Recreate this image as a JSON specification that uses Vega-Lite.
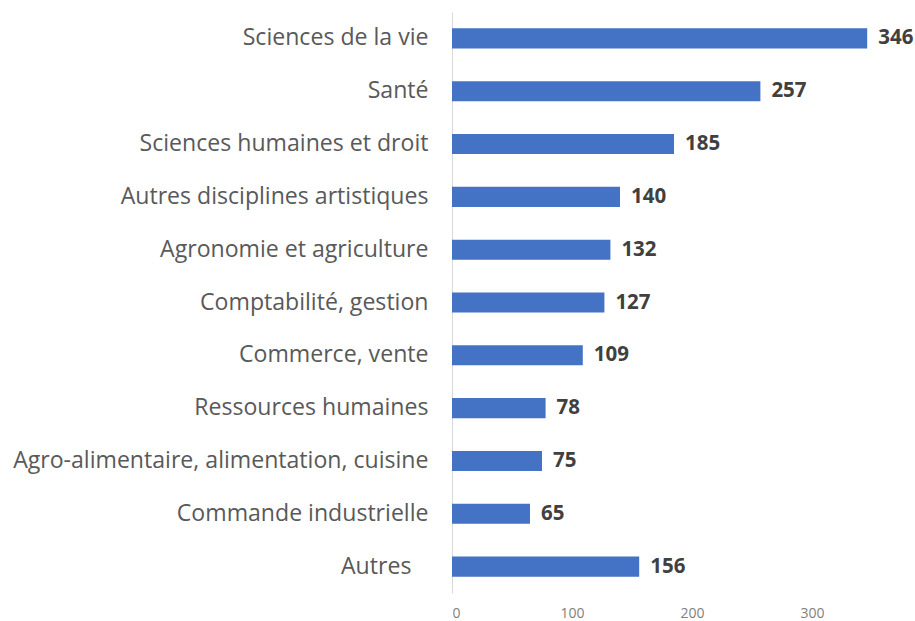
{
  "$schema": "https://vega.github.io/schema/vega-lite/v6.json",
  "autosize": "none",
  "padding": {"left": 452, "top": 12, "right": 0, "bottom": 28},
  "width": 462,
  "height": 581,
  "background": "white",
  "data": {"values": [
    {"cat": "Sciences de la vie", "v": 346},
    {"cat": "Santé", "v": 257},
    {"cat": "Sciences humaines et droit", "v": 185},
    {"cat": "Autres disciplines artistiques", "v": 140},
    {"cat": "Agronomie et agriculture", "v": 132},
    {"cat": "Comptabilité, gestion", "v": 127},
    {"cat": "Commerce, vente", "v": 109},
    {"cat": "Ressources humaines", "v": 78},
    {"cat": "Agro-alimentaire, alimentation, cuisine", "v": 75},
    {"cat": "Commande industrielle", "v": 65},
    {"cat": "Autres\u2007\u2006\u200b", "v": 156}
  ]},
  "config": {"view": {"stroke": null}, "font": "Open Sans"},
  "encoding": {
    "y": {"field": "cat", "type": "nominal", "sort": null,
      "scale": {"paddingInner": 0.62, "paddingOuter": 0.31},
      "axis": {"title": null, "ticks": false, "domainColor": "#d9d9d9", "domainWidth": 1,
        "labelFont": "Open Sans", "labelFontSize": 23.1, "labelColor": "#595959", "labelPadding": 24, "labelLimit": 0}},
    "x": {"field": "v", "type": "quantitative",
      "scale": {"domain": [0, 385], "nice": false},
      "axis": {"title": null, "values": [0, 100, 200, 300], "grid": false, "domain": false, "ticks": false,
        "labelFont": "Open Sans", "labelFontSize": 14, "labelColor": "#7f7f7f", "labelPadding": 13}}
  },
  "layer": [
    {"mark": {"type": "bar", "color": "#4472C4"}},
    {"mark": {"type": "text", "align": "left", "dx": 11, "fontWeight": "bold", "fontSize": 20.5, "color": "#404040", "font": "Open Sans"},
     "encoding": {"text": {"field": "v", "type": "quantitative"}}}
  ]
}
